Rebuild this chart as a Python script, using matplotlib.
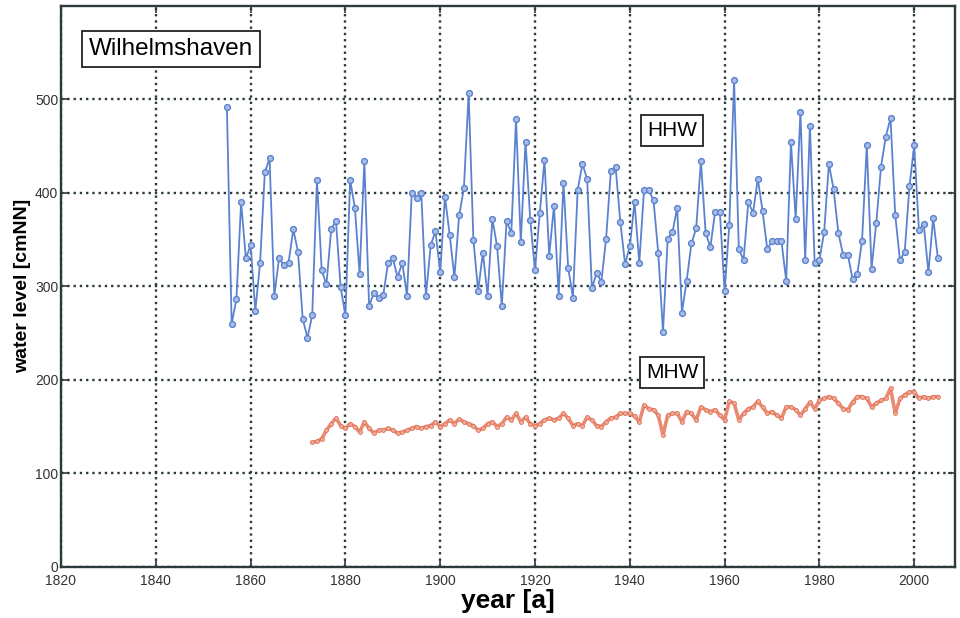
import numpy as np
import matplotlib
matplotlib.use("Agg")
import matplotlib.pyplot as plt

plt.rcParams["font.family"] = ["Liberation Sans", "DejaVu Sans"]

# ── Data ────────────────────────────────────────────────────────────────────
hhw_years = list(range(1855, 2006))
hhw_values = [
    492, 260, 286, 390, 330, 344, 274, 325, 422, 437,   # 1855-1864
    290, 330, 323, 325, 361, 337, 265, 245, 269, 414,   # 1865-1874
    317, 302, 361, 370, 299, 269, 414, 384, 313, 434,   # 1875-1884
    279, 293, 287, 291, 325, 330, 310, 325, 290, 400,   # 1885-1894
    395, 400, 290, 344, 359, 315, 396, 355, 310, 376,   # 1895-1904
    405, 507, 350, 295, 336, 290, 372, 343, 279, 370,   # 1905-1914
    357, 479, 347, 455, 371, 317, 378, 435, 333, 386,   # 1915-1924
    290, 411, 320, 288, 403, 431, 415, 298, 314, 305,   # 1925-1934
    351, 423, 428, 369, 324, 343, 390, 325, 403, 403,   # 1935-1944
    392, 336, 251, 351, 358, 384, 272, 306, 346, 362,   # 1945-1954
    434, 357, 342, 380, 380, 295, 366, 521, 340, 328,   # 1955-1964
    390, 379, 415, 381, 340, 348, 348, 348, 306, 454,   # 1965-1974
    372, 487, 328, 472, 325, 328, 358, 431, 404, 357,   # 1975-1984
    334, 334, 308, 313, 349, 451, 319, 368, 428, 460,   # 1985-1994
    480, 376, 328, 337, 407, 451, 360, 367, 315, 373,   # 1995-2004
    330,                                                # 2005
]

mhw_years = list(range(1873, 2006))
mhw_values = [
    133, 134, 137, 146, 153, 159, 151,                  # 1873-1879
    148, 153, 150, 144, 155, 148, 143, 146, 146, 148,   # 1880-1889
    146, 143, 144, 146, 148, 150, 148, 150, 151, 155,   # 1890-1899
    150, 153, 157, 153, 158, 155, 153, 151, 146, 148,   # 1900-1909
    153, 155, 150, 153, 160, 157, 164, 155, 160, 153,   # 1910-1919
    151, 153, 157, 159, 157, 159, 164, 159, 151, 153,   # 1920-1929
    151, 160, 157, 151, 150, 155, 159, 160, 164, 164,   # 1930-1939
    164, 161, 155, 173, 169, 168, 162, 141, 162, 164,   # 1940-1949
    164, 155, 166, 164, 157, 171, 168, 166, 168, 162,   # 1950-1959
    157, 177, 175, 157, 164, 169, 171, 177, 171, 164,   # 1960-1969
    166, 162, 159, 171, 171, 168, 162, 169, 176, 169,   # 1970-1979
    178, 180, 182, 180, 175, 169, 168, 176, 182, 182,   # 1980-1989
    180, 171, 175, 178, 180, 191, 164, 180, 184, 187,   # 1990-1999
    187, 180, 182, 180, 182, 182,                       # 2000-2005
]

x_ticks = [1820, 1840, 1860, 1880, 1900, 1920, 1940, 1960, 1980, 2000]
y_ticks = [0, 100, 200, 300, 400, 500]

# ── Figure ──────────────────────────────────────────────────────────────────
fig = plt.figure(figsize=(9.6, 6.18), dpi=100)
ax = fig.add_axes([61 / 960, 51.3 / 618, 894 / 960, 560.7 / 618])

ax.plot(hhw_years, hhw_values, color="#5b82cf", lw=1.3, marker="o",
        ms=4.2, mfc="#a9bde6", mec="#5b82cf", mew=1.0, zorder=3)
ax.plot(mhw_years, mhw_values, color="#ea8a72", lw=2.6, marker="o",
        ms=2.8, mfc="#f2ad98", mec="#e07058", mew=0.6, zorder=3)

ax.set_xlim(1820, 1820 + 894 / 4.74)
ax.set_ylim(0, 600)
ax.set_xticks(x_ticks)
ax.set_yticks(y_ticks)
ax.tick_params(direction="in", length=5, width=1.2, labelsize=10,
               colors="#2c3a3c", top=True, right=True)
ax.tick_params(axis="x", pad=5)
ax.tick_params(axis="y", pad=2)
for lab in ax.get_xticklabels() + ax.get_yticklabels():
    lab.set_color("#333333")

ax.grid(True, color="#2c3a3c", ls=":", lw=1.7, zorder=1)
for sp in ax.spines.values():
    sp.set_color("#2c3a3c")
    sp.set_linewidth(1.7)

ax.set_xlabel("year [a]", fontsize=19, fontweight="bold", labelpad=1)
ax.set_ylabel("water level [cmNN]", fontsize=14, fontweight="bold", labelpad=3)

box = dict(boxstyle="square,pad=0.3", fc="white", ec="#222222", lw=1.3)
ax.text(1843.2, 554, "Wilhelmshaven", fontsize=17.5, ha="center", va="center",
        bbox=box, zorder=5)
ax.text(1948.9, 467, "HHW", fontsize=15, ha="center", va="center",
        bbox=box, zorder=5)
ax.text(1948.9, 208, "MHW", fontsize=15, ha="center", va="center",
        bbox=box, zorder=5)

plt.savefig("out.png", dpi=100, facecolor="white")
plt.close()
